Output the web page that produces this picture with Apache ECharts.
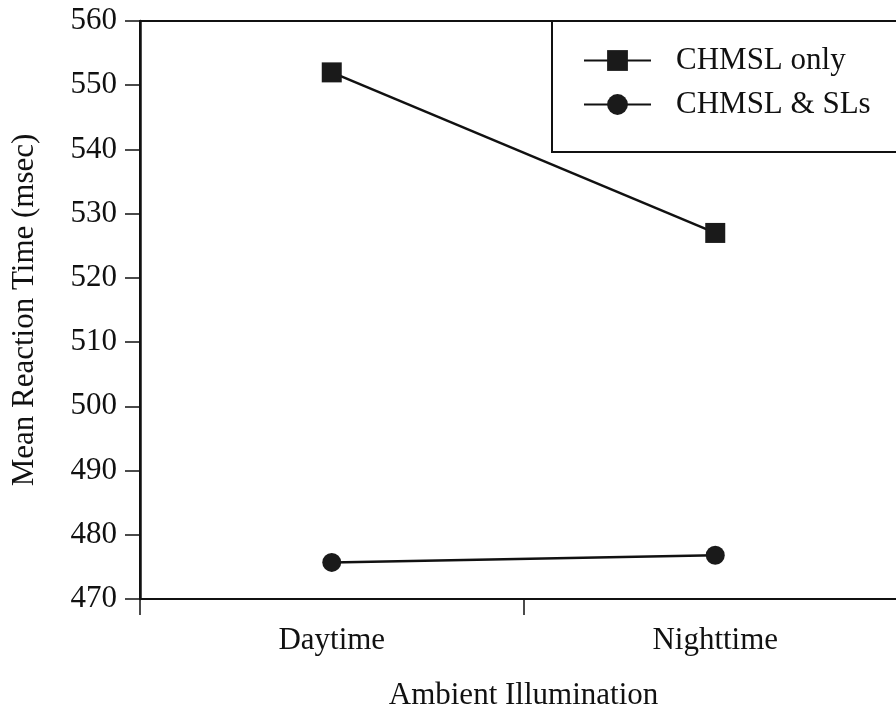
<!DOCTYPE html>
<html>
<head>
<meta charset="utf-8">
<script src="https://cdn.jsdelivr.net/npm/echarts@6/dist/echarts.min.js"></script>
<style>
    html, body { margin: 0; padding: 0; background: #fff; }
    #chart { width: 896px; height: 709px; }
</style>
</head>
<body>
<div id="chart"></div>
<script>
    // illumination conditions on the x axis
    var categories = ['Daytime', 'Nighttime']
    // mean reaction time per condition (msec)
    var chmslOnly = [552.0, 527.0]
    var chmslAndSls = [475.7, 476.8]
    var seriesNames = ['CHMSL only', 'CHMSL & SLs']

    var font = '"Liberation Serif", "Times New Roman", serif'
    var ink = '#111'
    var fs = 31

    var chart = echarts.init(document.getElementById('chart'))
    var option = {
        animation: false,
        backgroundColor: '#fff',
        textStyle: { fontFamily: font, color: ink },
        grid: {
            left: 140,
            width: 767,
            top: 21,
            bottom: 110,
            outerBoundsMode: 'none',
            show: true,
            borderColor: ink,
            borderWidth: 2
        },
        // frame of the legend, running off the right edge like the original
        graphic: [{
            type: 'rect',
            z: 3,
            shape: { x: 552, y: 21, width: 420, height: 131 },
            style: { fill: '#fff', stroke: ink, lineWidth: 2 }
        }],
        legend: {
            data: seriesNames,
            orient: 'vertical',
            left: 552,
            top: 21,
            z: 5,
            itemWidth: 67,
            itemHeight: 26,
            itemGap: 13,
            padding: [24, 10, 31, 31],
            textStyle: {
                fontFamily: font,
                fontSize: fs,
                color: ink,
                padding: [0, 0, 0, 20]
            }
        },
        xAxis: {
            type: 'category',
            data: categories,
            boundaryGap: true,
            name: 'Ambient Illumination',
            nameLocation: 'middle',
            nameGap: 81,
            nameTextStyle: { fontFamily: font, fontSize: fs, color: ink },
            axisLine: { lineStyle: { color: ink, width: 2 } },
            axisTick: { show: true, length: 16, alignWithLabel: false, lineStyle: { color: ink, width: 1.5 } },
            axisLabel: { margin: 26, fontFamily: font, fontSize: fs, color: ink },
            splitLine: { show: false }
        },
        yAxis: {
            type: 'value',
            min: 470,
            max: 560,
            interval: 10,
            name: 'Mean Reaction Time (msec)',
            nameLocation: 'middle',
            nameGap: 100,
            nameTextStyle: { fontFamily: font, fontSize: fs, color: ink },
            axisLine: { show: true, lineStyle: { color: ink, width: 2.5 } },
            axisTick: { show: true, length: 15, lineStyle: { color: ink, width: 1.5 } },
            axisLabel: { margin: 23, fontFamily: font, fontSize: fs, color: ink },
            splitLine: { show: false }
        },
        series: [
            {
                name: seriesNames[0],
                type: 'line',
                data: chmslOnly,
                symbol: 'rect',
                symbolSize: 20,
                itemStyle: { color: '#1a1a1a' },
                lineStyle: { color: ink, width: 2.5 }
            },
            {
                name: seriesNames[1],
                type: 'line',
                data: chmslAndSls,
                symbol: 'circle',
                symbolSize: 19,
                itemStyle: { color: '#1a1a1a' },
                lineStyle: { color: ink, width: 2.5 }
            }
        ]
    }
    chart.setOption(option)
</script>
</body>
</html>
